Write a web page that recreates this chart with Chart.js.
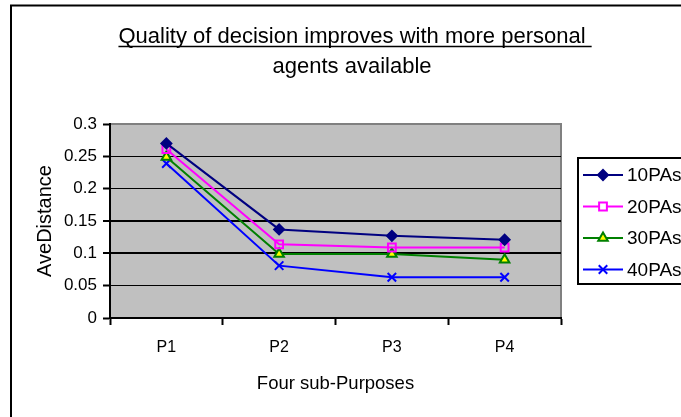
<!DOCTYPE html>
<html>
<head>
<meta charset="utf-8">
<script src="https://cdn.jsdelivr.net/npm/chart.js@4/dist/chart.umd.min.js"></script>
<style>
  html, body { margin: 0; padding: 0; background: #fff; }
  #wrap { width: 681px; height: 417px; }
</style>
</head>
<body>
<div id="wrap"><canvas id="chart" width="681" height="417"></canvas></div>
<script>
const categories = ["P1", "P2", "P3", "P4"];
const seriesNames = ["10PAs", "20PAs", "30PAs", "40PAs"];
const pas10 = [0.270, 0.137, 0.127, 0.121];
const pas20 = [0.261, 0.114, 0.109, 0.109];
const pas30 = [0.249, 0.099, 0.099, 0.090];
const pas40 = [0.239, 0.081, 0.063, 0.063];
const yTicks = [0, 0.05, 0.1, 0.15, 0.2, 0.25, 0.3];
const titleLines = ["Quality of decision improves with more personal", "agents available"];
const xTitle = "Four sub-Purposes";
const yTitle = "AveDistance";

const FONT = "'Liberation Sans', Arial, sans-serif";

function makeSeries(label, data, color, style, fill, radius) {
  return {
    label,
    data,
    borderColor: color,
    borderWidth: 2,
    pointStyle: style,
    pointRadius: radius,
    pointHoverRadius: radius,
    pointBackgroundColor: fill,
    pointBorderColor: color,
    pointBorderWidth: 2,
    tension: 0,
    clip: false
  };
}

// background, plot fill and outer frame + title and boxed legend
const framePlugin = {
  id: "frame",
  beforeDraw(chart) {
    const { ctx, chartArea: a } = chart;
    ctx.save();
    ctx.fillStyle = "#fff";
    ctx.fillRect(0, 0, chart.width, chart.height);
    ctx.fillStyle = "#c0c0c0";
    ctx.fillRect(a.left, a.top, a.right - a.left, a.bottom - a.top);
    ctx.strokeStyle = "#808080";
    ctx.lineWidth = 2;
    ctx.beginPath();
    ctx.moveTo(a.left, a.top);
    ctx.lineTo(a.right, a.top);
    ctx.lineTo(a.right, a.bottom);
    ctx.stroke();

    ctx.strokeStyle = "#000";
    ctx.lineWidth = 2;
    ctx.beginPath();
    ctx.moveTo(11, chart.height);
    ctx.lineTo(11, 5.5);
    ctx.lineTo(chart.width, 5.5);
    ctx.stroke();
    ctx.restore();
  },
  afterDraw(chart) {
    const ctx = chart.ctx;
    ctx.save();

    // title, first line underlined
    const cx = 352;
    ctx.fillStyle = "#000";
    ctx.font = "22px " + FONT;
    ctx.textAlign = "center";
    ctx.textBaseline = "alphabetic";
    ctx.fillText(titleLines[0], cx, 43);
    ctx.fillText(titleLines[1], cx, 73);
    const w0 = ctx.measureText(titleLines[0]).width;
    const wu = ctx.measureText(titleLines[0] + " ").width;
    ctx.strokeStyle = "#000";
    ctx.lineWidth = 1.5;
    ctx.beginPath();
    ctx.moveTo(cx - w0 / 2, 46.5);
    ctx.lineTo(cx - w0 / 2 + wu, 46.5);
    ctx.stroke();

    // legend box
    ctx.lineWidth = 2;
    ctx.strokeRect(578, 158, 140, 126);
    ctx.font = "19px " + FONT;
    ctx.textAlign = "left";
    ctx.textBaseline = "middle";
    chart.data.datasets.forEach((ds, i) => {
      const y = 175 + i * 31.5;
      ctx.strokeStyle = ds.borderColor;
      ctx.lineWidth = 2;
      ctx.beginPath();
      ctx.moveTo(583, y);
      ctx.lineTo(623, y);
      ctx.stroke();
      ctx.fillStyle = ds.pointBackgroundColor === "rgba(0,0,0,0)" ? "#fff" : ds.pointBackgroundColor;
      ctx.strokeStyle = ds.pointBorderColor;
      Chart.helpers.drawPoint(ctx, {
        pointStyle: ds.pointStyle,
        radius: ds.pointRadius,
        borderWidth: ds.pointBorderWidth,
        rotation: 0
      }, 603, y);
      ctx.fillStyle = "#000";
      ctx.fillText(ds.label, 627, y + 1);
    });
    ctx.restore();
  }
};

new Chart(document.getElementById("chart"), {
  type: "line",
  data: {
    labels: categories,
    datasets: [
      makeSeries(seriesNames[0], pas10, "#000080", "rectRot", "#000080", 5),
      makeSeries(seriesNames[1], pas20, "#ff00ff", "rect", "rgba(0,0,0,0)", 5.5),
      makeSeries(seriesNames[2], pas30, "#008000", "triangle", "#ffff00", 5.5),
      makeSeries(seriesNames[3], pas40, "#0000ff", "crossRot", "#0000ff", 6)
    ]
  },
  options: {
    responsive: false,
    animation: false,
    events: [],
    layout: { padding: { top: 124, right: 120, bottom: 0, left: 0 } },
    plugins: {
      legend: { display: false },
      title: { display: false },
      tooltip: { enabled: false }
    },
    scales: {
      x: {
        offset: true,
        afterFit(scale) { scale.height = 99; },
        grid: {
          offset: true,
          drawOnChartArea: false,
          drawTicks: true,
          tickLength: 7,
          tickColor: "#000",
          tickWidth: 2
        },
        border: { display: true, color: "#000", width: 2 },
        ticks: {
          color: "#000",
          padding: 13,
          font: { family: FONT, size: 16 }
        },
        title: {
          display: true,
          text: xTitle,
          color: "#000",
          font: { family: FONT, size: 18.5 },
          padding: { top: 0, bottom: 22 }
        }
      },
      y: {
        min: 0,
        max: 0.3,
        afterFit(scale) { scale.width = 110; },
        afterBuildTicks(scale) {
          scale.ticks = yTicks.map((v) => ({ value: v }));
        },
        grid: {
          drawOnChartArea: true,
          drawTicks: true,
          tickLength: 7,
          tickColor: "#000",
          tickWidth: 2,
          color: (c) => (c.tick && c.tick.value === 0.3 ? "#808080" : "#000"),
          lineWidth: (c) => (c.tick && (c.tick.value === 0.1 || c.tick.value === 0.15) ? 2 : 1)
        },
        border: { display: true, color: "#000", width: 2 },
        ticks: {
          color: "#000",
          padding: 6,
          font: { family: FONT, size: 17 },
          callback: (v) => String(v)
        },
        title: {
          display: true,
          text: yTitle,
          color: "#000",
          font: { family: FONT, size: 20 },
          padding: { top: 33, bottom: 0 }
        }
      }
    }
  },
  plugins: [framePlugin]
});
</script>
</body>
</html>
